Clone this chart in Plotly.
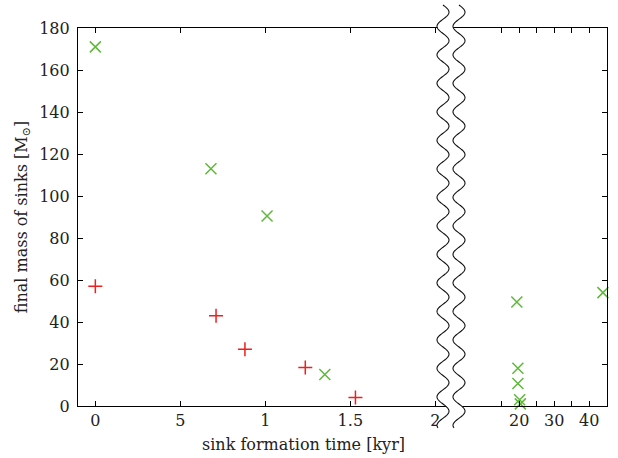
import numpy as np
import plotly.graph_objects as go

# Sinks formed in the first ~2 kyr (left panel, kyr)
early_green_t = [0.0, 0.68, 1.01, 1.35]
early_green_m = [171, 113, 90.5, 15]
early_red_t = [0.0, 0.71, 0.88, 1.235, 1.53]
early_red_m = [57, 43, 27, 18.3, 4]

# Late-forming sinks (right panel)
late_green_t = [19.3, 19.6, 19.6, 20.1, 20.3, 43.9]
late_green_m = [49.5, 18, 10.7, 3, 1, 54]

# Tick labels
left_tickvals = [0, 0.5, 1, 1.5, 2]
left_ticktext = ["0", "5", "1", "1.5", "2"]
right_tickvals = [20, 30, 40]
right_ticktext = ["20", "30", "40"]
right_minor_vals = [15, 25, 35]
y_tickvals = [0, 20, 40, 60, 80, 100, 120, 140, 160, 180]

GREEN = "#5fb83a"
RED = "#f01e1e"
FONT = "DejaVu Serif"

W, H = 618, 458
ML, MR, MT, MB = 78, 11, 28, 52
PW, PH = W - ML - MR, H - MT - MB
split_px = 451
split = (split_px - ML) / PW

fig = go.Figure()

fig.add_trace(go.Scatter(x=early_green_t, y=early_green_m, mode="markers",
                         marker=dict(symbol="x-thin", size=11, line=dict(color=GREEN, width=1.5)),
                         xaxis="x", yaxis="y", showlegend=False))
fig.add_trace(go.Scatter(x=early_red_t, y=early_red_m, mode="markers",
                         marker=dict(symbol="cross-thin", size=10, line=dict(color=RED, width=1.5)),
                         xaxis="x", yaxis="y", showlegend=False))
fig.add_trace(go.Scatter(x=late_green_t, y=late_green_m, mode="markers",
                         marker=dict(symbol="x-thin", size=11, line=dict(color=GREEN, width=1.5)),
                         xaxis="x2", yaxis="y2", showlegend=False, cliponaxis=False))

tick_style = dict(ticks="inside", ticklen=5, tickcolor="black", tickwidth=1,
                  showgrid=False, zeroline=False,
                  tickfont=dict(family=FONT, size=16, color="#222"))
axis_common = dict(showline=True, linecolor="black", linewidth=1.2, **tick_style)

left_min = -0.102
left_max = left_min + (split_px - 78) / 170.0
right_max = 45.06
right_min = right_max - (607 - split_px) / 3.5

fig.update_layout(
    width=W, height=H,
    margin=dict(l=ML, r=MR, t=MT, b=MB),
    plot_bgcolor="white", paper_bgcolor="white",
    xaxis=dict(domain=[0, split], range=[left_min, left_max], tickmode="array",
               tickvals=left_tickvals, ticktext=left_ticktext, mirror="ticks",
               anchor="y", **axis_common),
    xaxis2=dict(domain=[split, 1], range=[right_min, right_max], tickmode="array",
                tickvals=right_tickvals, ticktext=right_ticktext, mirror="ticks",
                minor=dict(tickmode="array", tickvals=right_minor_vals, ticks="inside",
                           ticklen=5, tickcolor="black", tickwidth=1, showgrid=False),
                anchor="y2", **axis_common),
    yaxis=dict(domain=[0, 1], range=[0, 180], tickmode="array", tickvals=y_tickvals,
               anchor="x", ticklabelstandoff=4,
               title=dict(text="final mass of sinks [M<sub>⊙</sub>]",
                          font=dict(family=FONT, size=16, color="#222"), standoff=7),
               **axis_common),
    yaxis2=dict(domain=[0, 1], range=[0, 180], tickmode="array", tickvals=y_tickvals,
                anchor="x2", side="right", showticklabels=False,
                **axis_common),
)

# Shared x title centred under the whole frame
fig.add_annotation(text="sink formation time [kyr]", xref="paper", yref="paper",
                   x=(303 - ML) / PW, y=-(444 - (MT + PH)) / PH, showarrow=False,
                   font=dict(family=FONT, size=16, color="#222"), xanchor="center", yanchor="middle")


# Wavy axis break
def px_to_paper(px, py):
    return (px - ML) / PW, (MT + PH - py) / PH


ys = np.linspace(5, 428, 600)
amp, period = 6.0, 28.5
left_x = 443 + amp * np.sin(2 * np.pi * (ys - 5) / period)
right_x = 459 + amp * np.sin(2 * np.pi * (ys - 5) / period)


def path_from(xs, yv):
    pts = [px_to_paper(a, b) for a, b in zip(xs, yv)]
    return "M " + " L ".join(f"{a:.5f},{b:.5f}" for a, b in pts)


band = path_from(np.concatenate([left_x, right_x[::-1]]),
                 np.concatenate([ys, ys[::-1]])) + " Z"
fig.add_shape(type="path", path=band, xref="paper", yref="paper",
              fillcolor="white", line=dict(width=0), layer="above")
for xs in (left_x, right_x):
    fig.add_shape(type="path", path=path_from(xs, ys), xref="paper", yref="paper",
                  fillcolor="rgba(0,0,0,0)", line=dict(color="#111", width=1.1), layer="above")

fig.write_html("out.html")
